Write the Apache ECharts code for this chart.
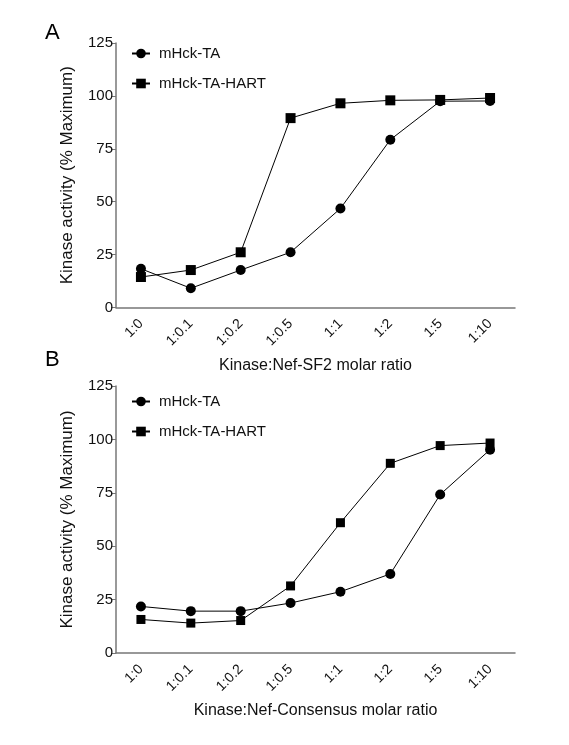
<!DOCTYPE html>
<html>
<head>
<meta charset="utf-8">
<script src="https://cdn.jsdelivr.net/npm/echarts@6/dist/echarts.min.js"></script>
<style>
html,body{margin:0;padding:0;background:#fff;}
#chart{width:569px;height:745px;}
</style>
</head>
<body>
<div id="chart"></div>
<script>
var categories = ['1:0', '1:0.1', '1:0.2', '1:0.5', '1:1', '1:2', '1:5', '1:10'];
var yTicks = [0, 25, 50, 75, 100, 125];
var seriesNames = ['mHck-TA', 'mHck-TA-HART'];
var panelA_TA = [18.3, 9.1, 17.7, 26.1, 46.8, 79.3, 97.5, 97.6];
var panelA_HART = [14.4, 17.7, 26.1, 89.5, 96.5, 97.9, 98.1, 99.0];
var panelB_TA = [21.8, 19.6, 19.6, 23.4, 28.7, 37.0, 74.2, 95.2];
var panelB_HART = [15.7, 14.0, 15.2, 31.4, 61.0, 88.8, 97.1, 98.3];
var xTitleA = 'Kinase:Nef-SF2 molar ratio';
var xTitleB = 'Kinase:Nef-Consensus molar ratio';
var yTitle = 'Kinase activity (% Maximum)';

var FONT = '"Liberation Sans", Arial, sans-serif';
var AXIS_COLOR = '#777';
var TEXT_COLOR = '#111';

function xAxis(idx, name) {
  return {
    type: 'category', gridIndex: idx, data: categories, boundaryGap: true,
    name: name, nameLocation: 'middle', nameGap: 50,
    nameTextStyle: {fontFamily: FONT, fontSize: 16, color: TEXT_COLOR},
    axisLine: {lineStyle: {color: AXIS_COLOR, width: 1.5}},
    axisTick: {show: false},
    axisLabel: {rotate: 45, margin: 14, fontFamily: FONT, fontSize: 14, color: TEXT_COLOR, interval: 0},
    splitLine: {show: false}
  };
}
function yAxis(idx) {
  return {
    type: 'value', gridIndex: idx, min: yTicks[0], max: yTicks[yTicks.length - 1],
    interval: yTicks[1] - yTicks[0],
    name: yTitle, nameLocation: 'middle', nameGap: 40, nameRotate: 90,
    nameTextStyle: {fontFamily: FONT, fontSize: 17, color: TEXT_COLOR},
    axisLine: {show: true, lineStyle: {color: AXIS_COLOR, width: 1.5}},
    axisTick: {show: true, length: 5, lineStyle: {color: AXIS_COLOR, width: 1}},
    axisLabel: {margin: 3, fontFamily: FONT, fontSize: 15, color: TEXT_COLOR},
    splitLine: {show: false}
  };
}
function series(name, idx, data, symbol, size) {
  return {
    name: name, type: 'line', xAxisIndex: idx, yAxisIndex: idx, data: data,
    symbol: symbol, symbolSize: size,
    lineStyle: {color: '#000', width: 1},
    itemStyle: {color: '#000'},
    emphasis: {disabled: true},
    animation: false
  };
}
function legend(top) {
  return {
    orient: 'vertical', left: 131, top: top, itemGap: 15, padding: 0,
    itemWidth: 18, itemHeight: 12,
    textStyle: {fontFamily: FONT, fontSize: 15, color: TEXT_COLOR, padding: [0, 0, 0, 4]},
    data: seriesNames.map(function (n) { return {name: n}; })
  };
}

var chart = echarts.init(document.getElementById('chart'), null, {renderer: 'canvas'});
chart.setOption({
  backgroundColor: '#fff',
  animation: false,
  title: [
    {text: 'A', left: 45, top: 22, padding: 0, textStyle: {fontFamily: FONT, fontSize: 22, fontWeight: 'normal', color: '#000'}},
    {text: 'B', left: 45, top: 349, padding: 0, textStyle: {fontFamily: FONT, fontSize: 22, fontWeight: 'normal', color: '#000'}}
  ],
  grid: [
    {left: 116, top: 43, width: 399, height: 264.5},
    {left: 116, top: 386, width: 399, height: 267}
  ],
  xAxis: [xAxis(0, xTitleA), xAxis(1, xTitleB)],
  yAxis: [yAxis(0), yAxis(1)],
  legend: [legend(46), legend(394)],
  series: [
    series(seriesNames[0], 0, panelA_TA, 'circle', 10),
    series(seriesNames[1], 0, panelA_HART, 'rect', 10),
    series(seriesNames[0], 1, panelB_TA, 'circle', 10),
    series(seriesNames[1], 1, panelB_HART, 'rect', 9)
  ]
});
</script>
</body>
</html>
